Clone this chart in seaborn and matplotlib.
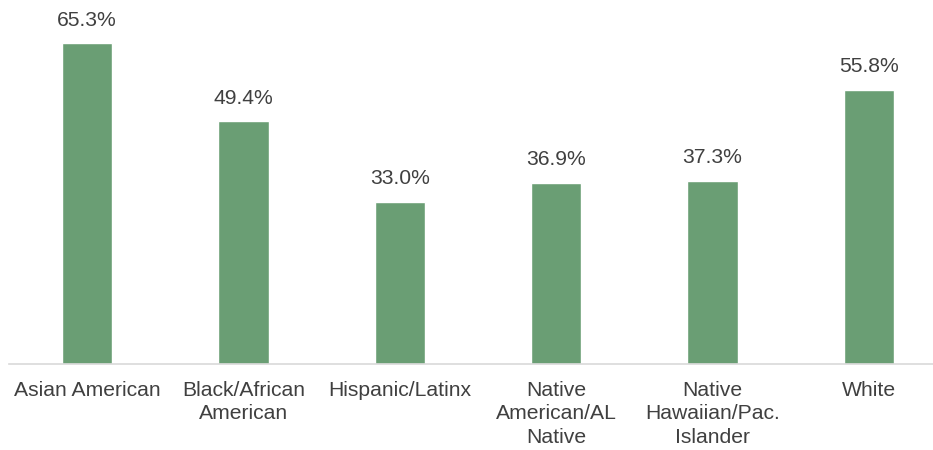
import pandas as pd
import seaborn as sns
import matplotlib.pyplot as plt

categories = ['Asian American', 'Black/African\nAmerican', 'Hispanic/Latinx',
              'Native\nAmerican/AL\nNative', 'Native\nHawaiian/Pac.\nIslander', 'White']
values = [65.3, 49.4, 33.0, 36.9, 37.3, 55.8]

df = pd.DataFrame({'Grupo': categories, 'Valor': values})

sns.set_style('white')
plt.rcParams['font.family'] = ['Liberation Sans', 'DejaVu Sans']

fig = plt.figure(figsize=(9.33, 4.5), dpi=100)
# el eje se sale un poco por la derecha, como en el original
ax = fig.add_axes([9 / 933, 0.1911, 938 / 933, 0.7647])

sns.barplot(x='Grupo', y='Valor', data=df, color='#6A9E74', width=0.32,
            saturation=1, ax=ax)

for i, v in enumerate(values):
    ax.annotate(f'{v:.1f}%', (i, v), xytext=(0, 12.5), textcoords='offset points',
                ha='center', va='baseline', fontsize=15.2, color='#404040')

ax.set_ylim(0, 70)
ax.set_xlim(-0.5, 5.5)
ax.set_yticks([])
ax.set_xlabel('')
ax.set_ylabel('')
ax.tick_params(axis='x', length=0, labelsize=15.2, labelcolor='#404040', pad=12)
for lbl in ax.get_xticklabels():
    lbl.set_linespacing(1.32)
for s in ['top', 'right', 'left']:
    ax.spines[s].set_visible(False)
ax.spines['bottom'].set_color('#D9D9D9')
ax.spines['bottom'].set_linewidth(1.2)

fig.savefig('out.png', dpi=100)
